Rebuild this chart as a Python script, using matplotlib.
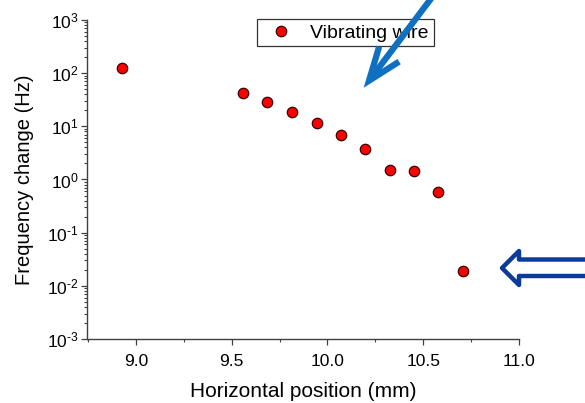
import matplotlib.pyplot as plt
import numpy as np
from matplotlib.patches import Polygon, FancyArrowPatch
from matplotlib.ticker import FuncFormatter

plt.rcParams['font.family'] = ['Liberation Sans', 'DejaVu Sans']
plt.rcParams['mathtext.fontset'] = 'custom'
plt.rcParams['mathtext.rm'] = 'Liberation Sans'
plt.rcParams['mathtext.it'] = 'Liberation Sans'
plt.rcParams['axes.unicode_minus'] = False

# data
position_mm = [8.927, 9.559, 9.687, 9.815, 9.944, 10.071, 10.197, 10.326, 10.453, 10.578, 10.706]
freq_change_hz = [126, 42, 28.5, 18.8, 11.6, 7.0, 3.7, 1.5, 1.45, 0.57, 0.019]
x_ticks = [9.0, 9.5, 10.0, 10.5, 11.0]
series_name = 'Vibrating wire'

fig = plt.figure(figsize=(5.85, 4.03), dpi=100)
ax = fig.add_axes([0.1487, 0.1588, 0.7385, 0.7916])

ax.plot(position_mm, freq_change_hz, 'o', color='#ff0000', markeredgecolor='#3a0000',
        markeredgewidth=0.9, markersize=7.5, label=series_name, linestyle='none')

ax.set_yscale('log')
ax.set_ylim(1e-3, 1e3)
ax.set_xlim(8.745, 11.0)
ax.set_xticks(x_ticks)
ax.set_xticklabels(['%.1f' % v for v in x_ticks])
ax.set_xticks(np.arange(8.75, 11.0, 0.25), minor=True)
ax.set_yticks([10.0 ** k for k in range(-3, 4)])

def pow_label(v, pos):
    k = int(round(np.log10(v)))
    if k < 0:
        return r'$\mathrm{10}^{\text{-}%d}$' % (-k)
    return r'$\mathrm{10}^{%d}$' % k
ax.yaxis.set_major_formatter(FuncFormatter(pow_label))

for s in ['top', 'right']:
    ax.spines[s].set_visible(False)
for s in ['left', 'bottom']:
    ax.spines[s].set_linewidth(1.0)
    ax.spines[s].set_color('#404040')

ax.tick_params(which='major', direction='out', length=4, width=0.9, labelsize=12.5,
               colors='#404040', labelcolor='black')
ax.tick_params(which='minor', direction='out', length=2.5, width=0.8, colors='#404040')
ax.tick_params(axis='x', pad=7)
ax.tick_params(axis='y', pad=2)

ax.set_xlabel('Horizontal position (mm)', fontsize=15, labelpad=9)
ax.set_ylabel('Frequency change (Hz)', fontsize=14.5, labelpad=9)

leg = ax.legend(loc='upper left', bbox_to_anchor=(0.394, 1.002), frameon=True, fancybox=False,
                fontsize=14, handletextpad=0.5, borderpad=0.24, handlelength=2.0,
                borderaxespad=0)
leg.get_frame().set_edgecolor('black')
leg.get_frame().set_linewidth(0.9)

# blue pointer arrow (figure pixel coords converted to fraction)
W, H = 585.0, 403.0
def fp(x, y):
    return (x / W, 1 - y / H)

head = FancyArrowPatch(fp(433, -4), fp(362, 90), transform=fig.transFigure,
                       arrowstyle='->,head_length=24,head_width=9', color='#0f70c2',
                       linewidth=4.5, mutation_scale=1, joinstyle='miter', capstyle='butt')
fig.patches.append(head)

# hollow block arrow on the right
pts = [(502, 268), (519, 251), (519, 259.5), (590, 259.5), (590, 276),
       (519, 276), (519, 285)]
poly = Polygon([fp(*p) for p in pts], closed=True, transform=fig.transFigure,
               facecolor='white', edgecolor='#0a3a9a', linewidth=3.2, joinstyle='round')
fig.patches.append(poly)

fig.savefig('out.png', dpi=100)
